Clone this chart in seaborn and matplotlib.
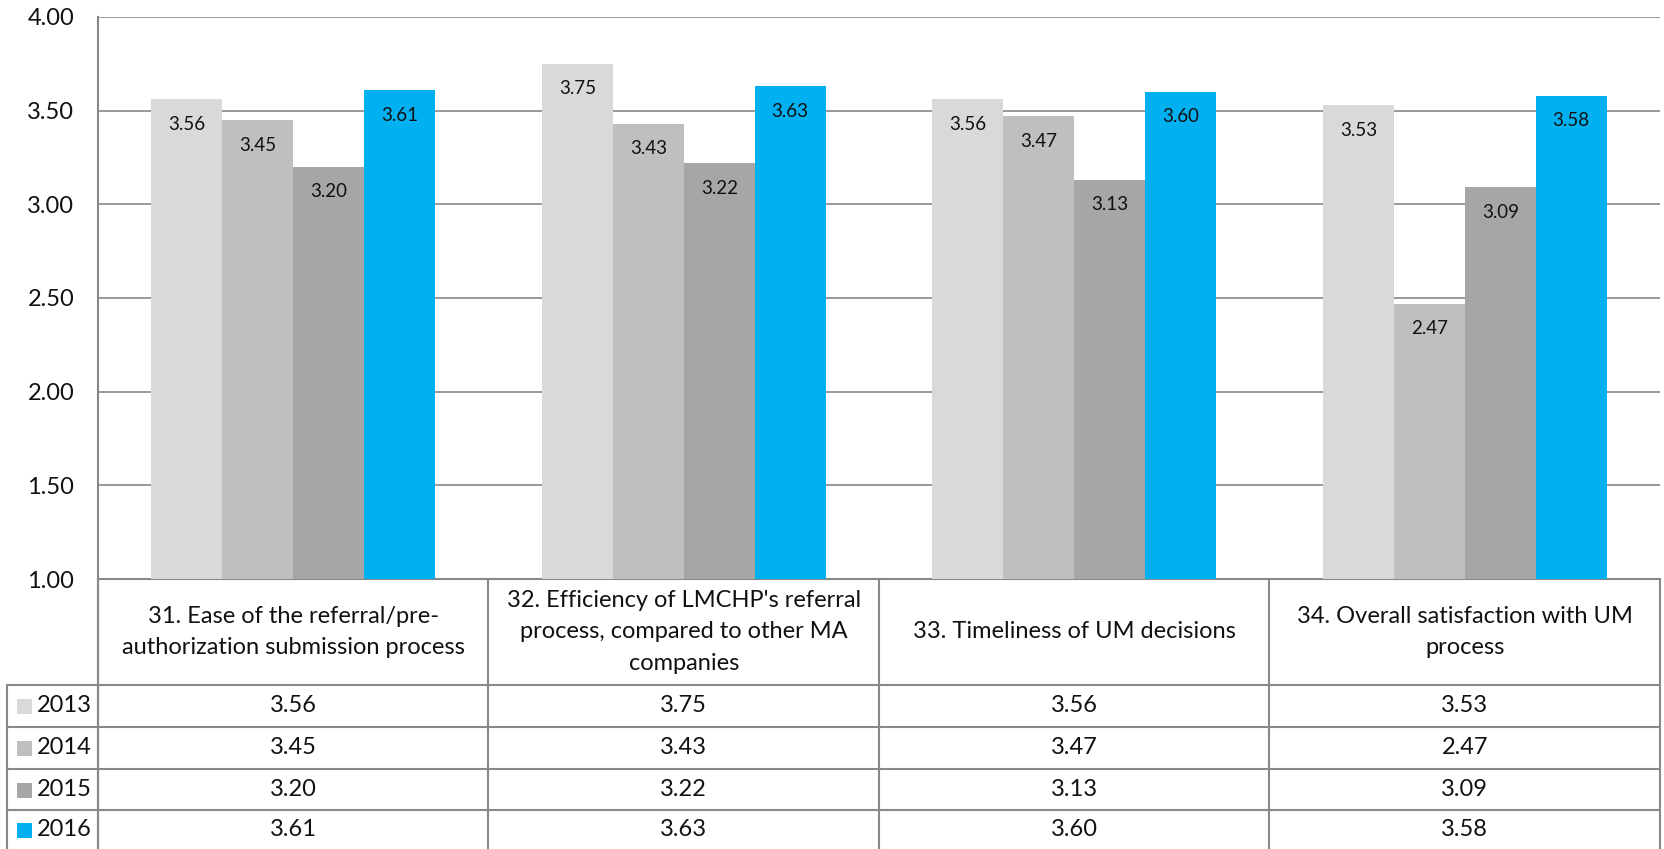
import pandas as pd
import matplotlib
matplotlib.use("Agg")
import matplotlib.pyplot as plt
import matplotlib.transforms as mtransforms
import seaborn as sns

# ---------------- DATA ----------------
categories = [
    "31. Ease of the referral/pre-\nauthorization submission process",
    "32. Efficiency of LMCHP's referral\nprocess, compared to other MA\ncompanies",
    "33. Timeliness of UM decisions",
    "34. Overall satisfaction with UM\nprocess",
]
years = ["2013", "2014", "2015", "2016"]
v2013 = [3.56, 3.75, 3.56, 3.53]
v2014 = [3.45, 3.43, 3.47, 2.47]
v2015 = [3.20, 3.22, 3.13, 3.09]
v2016 = [3.61, 3.63, 3.60, 3.58]
colors = ["#D9D9D9", "#BFBFBF", "#A6A6A6", "#00B0F0"]
y_ticks = [1.0, 1.5, 2.0, 2.5, 3.0, 3.5, 4.0]

series = dict(zip(years, [v2013, v2014, v2015, v2016]))
rows = []
for yr, vals in series.items():
    for cat, v in zip(categories, vals):
        rows.append({"category": cat, "year": yr, "value": v})
df = pd.DataFrame(rows)

# ---------------- STYLE ----------------
sns.set_style("white")
plt.rcParams["font.family"] = ["Lato", "DejaVu Sans"]
grid_c = "#888888"

W, H = 1665, 849
fig = plt.figure(figsize=(W / 100, H / 100), dpi=100)

def fy(py):
    return (H - py) / H

def fx(px):
    return px / W

x_left, x_right, y_top, y_bot = 98, 1660, 17, 579
ax = fig.add_axes([fx(x_left), fy(y_bot), fx(x_right) - fx(x_left), fy(y_top) - fy(y_bot)])

sns.barplot(data=df, x="category", y="value", hue="year", palette=colors,
            width=0.727, gap=0, saturation=1, errorbar=None, linewidth=0,
            legend=False, ax=ax, zorder=3)

ax.set_ylim(1, 4)
ax.set_xlim(-0.5, len(categories) - 0.5)
ax.set_yticks(y_ticks)
ax.set_yticklabels([f"{t:.2f}" for t in y_ticks], fontsize=17, color="#111111")
ax.set_xticks([])
ax.set_xlabel("")
ax.set_ylabel("")
ax.tick_params(axis="y", length=0, pad=17)
ax.yaxis.grid(True, color=grid_c, linewidth=1.2, zorder=0)
ax.set_axisbelow(True)
for s in ["top", "right"]:
    ax.spines[s].set_visible(False)
for s in ["left", "bottom"]:
    ax.spines[s].set_color(grid_c)
    ax.spines[s].set_linewidth(1.5)

# value labels inside the bars
for cont in ax.containers:
    for bar in cont:
        h = bar.get_height()
        ax.annotate(f"{h:.2f}", (bar.get_x() + bar.get_width() / 2, h),
                    xytext=(0, -18), textcoords="offset points",
                    ha="center", va="center", fontsize=13.5, color="#111111",
                    zorder=4)

# ---------------- DATA TABLE ----------------
blend = mtransforms.blended_transform_factory(ax.transData, fig.transFigure)
row_lines = [685, 727, 769, 810]
row_centers = [706, 748, 790, 830]
header_center = 632
lw = 1.5

# horizontal lines
for py in row_lines:
    fig.add_artist(plt.Line2D([fx(7), fx(x_right)], [fy(py), fy(py)],
                              color=grid_c, linewidth=lw, transform=fig.transFigure))
# vertical lines
fig.add_artist(plt.Line2D([fx(7), fx(7)], [fy(685), fy(H + 5)],
                          color=grid_c, linewidth=lw, transform=fig.transFigure))
fig.add_artist(plt.Line2D([fx(x_left), fx(x_left)], [fy(y_bot), fy(H + 5)],
                          color=grid_c, linewidth=lw, transform=fig.transFigure))
for i in range(len(categories) + 1):
    fig.add_artist(plt.Line2D([i - 0.5, i - 0.5], [fy(y_bot), fy(H + 5)],
                              color=grid_c, linewidth=lw, transform=blend))

# header texts
for i, cat in enumerate(categories):
    fig.text(i, fy(header_center), cat, transform=blend, ha="center", va="center",
             fontsize=17, linespacing=1.62, color="#111111")

# rows
for r, yr in enumerate(years):
    yc = fy(row_centers[r])
    fig.patches.append(plt.Rectangle((fx(17), yc - 7.5 / H), 15 / W, 15 / H,
                                     facecolor=colors[r], edgecolor="none",
                                     transform=fig.transFigure, figure=fig))
    fig.text(fx(37), yc, yr, ha="left", va="center", fontsize=17, color="#111111")
    for i, v in enumerate(series[yr]):
        fig.text(i, yc, f"{v:.2f}", transform=blend, ha="center", va="center",
                 fontsize=17, color="#111111")

fig.savefig("out.png", dpi=100)
